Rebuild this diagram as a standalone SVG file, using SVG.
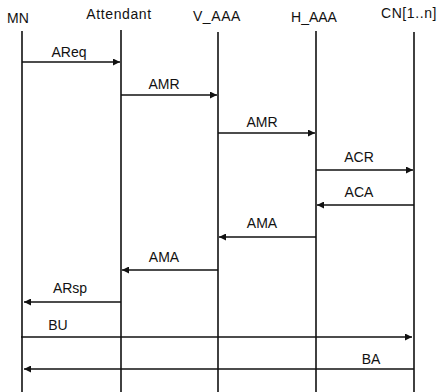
<svg xmlns="http://www.w3.org/2000/svg" width="441" height="392" viewBox="0 0 441 392">
<style>
text{font-family:"Liberation Sans",Arial,sans-serif;font-size:14px;fill:#111;text-anchor:middle}
.hd{letter-spacing:0.6px}
.life{stroke:#111;stroke-width:1.6;fill:none}
.msg{stroke:#111;stroke-width:1.5;fill:none;marker-end:url(#ah)}
</style>
<defs>
<marker id="ah" viewBox="0 0 10 10" refX="10" refY="5" markerWidth="9" markerHeight="7" markerUnits="userSpaceOnUse" orient="auto">
<path d="M0,0 L10,5 L0,10 Z" fill="#111"/>
</marker>
</defs>
<rect width="441" height="392" fill="#fff"/>
<g id="MN"><text x="18" y="23">MN</text><line class="life" x1="22" y1="31" x2="22" y2="392"/></g>
<g id="Attendant"><text class="hd" x="119" y="19">Attendant</text><line class="life" x1="121" y1="30" x2="121" y2="392"/></g>
<g id="V_AAA"><text class="hd" x="217" y="21">V_AAA</text><line class="life" x1="218" y1="32" x2="218" y2="392"/></g>
<g id="H_AAA"><text x="314" y="22">H_AAA</text><line class="life" x1="316" y1="31" x2="316" y2="392"/></g>
<g id="CN"><text class="hd" x="409" y="18">CN[1..n]</text><line class="life" x1="414" y1="32" x2="414" y2="392"/></g>
<g id="connectors">
<line class="msg" x1="22" y1="62" x2="120" y2="62"/><text x="69" y="57">AReq</text>
<line class="msg" x1="121" y1="95" x2="217" y2="95"/><text x="164" y="89">AMR</text>
<line class="msg" x1="218" y1="133" x2="315" y2="133"/><text x="262" y="127">AMR</text>
<line class="msg" x1="316" y1="170" x2="413" y2="170"/><text x="359" y="162">ACR</text>
<line class="msg" x1="414" y1="205" x2="317" y2="205"/><text x="359" y="197">ACA</text>
<line class="msg" x1="316" y1="237" x2="219" y2="237"/><text x="262" y="228">AMA</text>
<line class="msg" x1="218" y1="270" x2="122" y2="270"/><text x="164" y="262">AMA</text>
<line class="msg" x1="121" y1="302" x2="24" y2="302"/><text x="70" y="293">ARsp</text>
<line class="msg" x1="21" y1="337" x2="412" y2="337"/><text x="58" y="330">BU</text>
<line class="msg" x1="414" y1="369" x2="24" y2="369"/><text x="371" y="364">BA</text>
</g>
</svg>
